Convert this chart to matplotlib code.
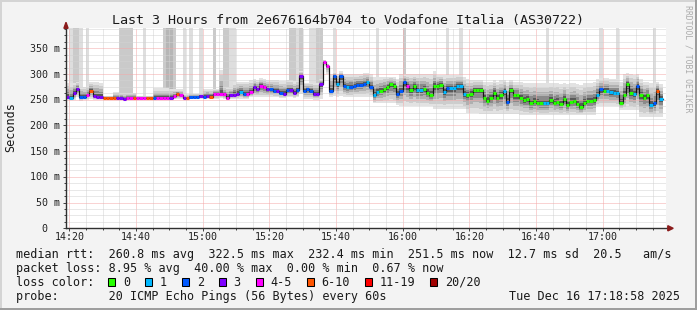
import matplotlib
matplotlib.use("Agg")
import matplotlib.pyplot as plt
import matplotlib.transforms as mtransforms
from matplotlib.patches import Rectangle, Polygon
import numpy as np

W, H, DPI = 697, 310, 100
MONO = "DejaVu Sans Mono"

title = "Last 3 Hours from 2e676164b704 to Vodafone Italia (AS30722)"

# minutes after 14:00; graph window is 14:18:58 .. 17:18:58, one step per minute from 14:19
x_start = 18 + 58 / 60
x_end = x_start + 180
first_minute = 19

# median rtt per minute (ms)
median = [
    256, 253, 264, 271, 256, 256, 260, 268, 257, 256,
    256, 253, 253, 253, 253, 253, 253, 251, 253, 253,
    253, 253, 253, 253, 253, 253, 253, 253, 253, 253,
    253, 254, 257, 261, 260, 253, 253, 256, 256, 256,
    258, 256, 258, 256, 262, 262, 261, 261, 254, 259,
    260, 262, 265, 261, 261, 265, 275, 270, 277, 274,
    270, 270, 268, 268, 264, 262, 269, 269, 264, 269,
    297, 268, 270, 268, 262, 262, 281, 323, 316, 268,
    296, 280, 296, 277, 274, 275, 277, 278, 279, 281,
    285, 275, 259, 265, 268, 271, 274, 280, 277, 261,
    268, 285, 277, 269, 277, 269, 269, 271, 264, 259,
    277, 277, 279, 265, 272, 272, 272, 277, 277, 261,
    259, 262, 269, 269, 269, 254, 248, 254, 264, 254,
    259, 268, 246, 269, 259, 259, 254, 250, 251, 243,
    248, 244, 243, 243, 243, 250, 244, 246, 241, 252,
    239, 246, 248, 241, 235, 244, 248, 248, 250, 260,
    270, 268, 268, 265, 264, 263, 244, 260, 280, 264,
    261, 277, 260, 254, 259, 239, 243, 268, 252,
]

# lost pings out of 20 per minute
loss = [
    3, 1, 3, 3, 2, 2, 4, 6, 3, 3,
    3, 6, 6, 6, 6, 3, 3, 3, 4, 4,
    6, 4, 4, 4, 6, 6, 2, 4, 4, 4,
    4, 3, 4, 6, 4, 3, 6, 2, 2, 2,
    3, 2, 3, 6, 4, 4, 4, 4, 4, 3,
    3, 3, 1, 2, 4, 4, 3, 3, 4, 4,
    3, 2, 2, 3, 2, 3, 2, 3, 3, 2,
    3, 2, 2, 2, 3, 3, 3, 4, 4, 2,
    2, 1, 2, 2, 1, 2, 2, 2, 2, 2,
    1, 2, 1, 1, 0, 0, 0, 0, 0, 2,
    2, 2, 4, 0, 0, 1, 1, 0, 0, 0,
    0, 0, 0, 1, 2, 1, 1, 1, 1, 1,
    0, 0, 0, 0, 0, 0, 0, 0, 0, 0,
    0, 1, 2, 0, 0, 0, 0, 0, 0, 0,
    0, 0, 0, 1, 1, 0, 0, 0, 0, 0,
    0, 0, 0, 0, 0, 0, 0, 0, 0, 1,
    2, 0, 1, 1, 1, 1, 0, 0, 0, 0,
    1, 2, 0, 0, 0, 1, 2, 6, 1,
]

# pings above the graph top (0 = none, 1..3 = how many smoke layers reach the top)
outliers = [
    0, 1, 2, 2, 1, 0, 1, 0, 0, 0,
    0, 0, 0, 0, 0, 0, 2, 2, 2, 2,
    0, 0, 0, 1, 0, 0, 0, 0, 0, 2,
    3, 3, 2, 0, 0, 1, 0, 1, 0, 0,
    1, 0, 0, 0, 2, 0, 0, 2, 2, 1,
    1, 0, 0, 0, 0, 0, 0, 0, 0, 0,
    0, 0, 0, 0, 0, 0, 0, 2, 2, 1,
    2, 0, 0, 1, 1, 2, 2, 0, 0, 0,
    1, 0, 0, 0, 0, 0, 0, 0, 0, 0,
    0, 0, 0, 1, 0, 0, 0, 0, 0, 0,
    0, 2, 0, 0, 0, 0, 0, 0, 0, 0,
    0, 0, 0, 0, 1, 0, 0, 0, 1, 0,
    0, 0, 0, 0, 0, 0, 0, 0, 0, 0,
    0, 0, 0, 0, 0, 0, 0, 0, 0, 0,
    0, 0, 0, 0, 1, 0, 0, 0, 0, 0,
    0, 0, 0, 0, 0, 0, 0, 0, 0, 0,
    1, 0, 0, 0, 0, 1, 0, 0, 0, 0,
    0, 0, 0, 0, 0, 0, 1, 0, 0,
]

# highest / lowest visible ping per minute (ms)
smoke_top = [
    282, 282, 282, 285, 275, 274, 276, 284, 285, 285,
    283, 258, 258, 258, 265, 265, 263, 263, 263, 263,
    263, 258, 258, 258, 258, 258, 272, 272, 272, 272,
    272, 270, 270, 270, 270, 262, 262, 262, 262, 262,
    262, 270, 270, 270, 270, 270, 308, 275, 275, 275,
    285, 285, 285, 285, 285, 288, 290, 288, 292, 290,
    288, 288, 288, 288, 286, 286, 288, 288, 286, 288,
    305, 283, 283, 283, 283, 283, 290, 328, 320, 300,
    305, 300, 305, 300, 300, 300, 300, 300, 300, 302,
    302, 300, 295, 295, 295, 295, 295, 295, 295, 290,
    300, 300, 300, 300, 300, 300, 300, 300, 300, 300,
    305, 298, 298, 298, 298, 298, 298, 298, 298, 295,
    290, 288, 288, 288, 288, 285, 285, 285, 288, 285,
    288, 288, 285, 288, 285, 285, 285, 282, 282, 282,
    282, 282, 282, 282, 282, 282, 282, 282, 280, 282,
    280, 282, 282, 280, 278, 282, 282, 282, 284, 290,
    292, 292, 292, 290, 290, 290, 285, 300, 302, 300,
    298, 300, 290, 285, 285, 282, 282, 285, 280,
]
smoke_bot = [
    249, 249, 250, 255, 248, 249, 250, 252, 250, 250,
    250, 251, 251, 251, 251, 251, 250, 249, 250, 250,
    250, 251, 251, 251, 251, 251, 250, 250, 250, 250,
    250, 251, 251, 251, 251, 251, 251, 251, 251, 251,
    251, 252, 252, 252, 252, 252, 253, 252, 249, 252,
    252, 252, 252, 252, 252, 255, 255, 255, 255, 255,
    255, 255, 255, 255, 254, 254, 255, 255, 254, 255,
    262, 252, 252, 252, 250, 250, 252, 315, 300, 256,
    258, 256, 258, 256, 256, 256, 256, 256, 256, 256,
    256, 256, 243, 243, 243, 243, 243, 243, 243, 240,
    237, 237, 237, 237, 237, 237, 237, 237, 237, 237,
    232, 232, 232, 232, 232, 232, 232, 232, 232, 232,
    225, 225, 225, 225, 222, 222, 222, 222, 222, 222,
    222, 222, 222, 222, 222, 222, 220, 220, 220, 220,
    220, 220, 220, 220, 220, 220, 220, 220, 220, 220,
    220, 220, 220, 220, 220, 220, 220, 220, 220, 237,
    237, 237, 237, 237, 237, 237, 230, 230, 230, 230,
    230, 230, 217, 217, 217, 217, 217, 217, 217,
]

loss_labels = ["0", "1", "2", "3", "4-5", "6-10", "11-19", "20/20"]
loss_colors = ["#26ff00", "#00b8ff", "#0059ff", "#7e00ff",
               "#ff00ff", "#ff5500", "#ff0000", "#a10000"]

x_ticks = [20, 40, 60, 80, 100, 120, 140, 160, 180]
x_tick_labels = ["14:20", "14:40", "15:00", "15:20", "15:40",
                 "16:00", "16:20", "16:40", "17:00"]
y_ticks = [0, 50, 100, 150, 200, 250, 300, 350]
y_tick_labels = ["0", "50 m", "100 m", "150 m", "200 m", "250 m", "300 m", "350 m"]
y_top = 389

legend_rows = [
    "median rtt:  260.8 ms avg  322.5 ms max  232.4 ms min  251.5 ms now  12.7 ms sd  20.5   am/s",
    "packet loss: 8.95 % avg  40.00 % max  0.00 % min  0.67 % now",
]
probe_text = "probe:       20 ICMP Echo Pings (56 Bytes) every 60s"
stamp_text = "Tue Dec 16 17:18:58 2025"


def loss_class(n):
    if n <= 3:
        return n
    if n <= 5:
        return 4
    if n <= 10:
        return 5
    if n <= 19:
        return 6
    return 7


n = len(median)
assert all(len(a) == n for a in (loss, outliers, smoke_top, smoke_bot))

med = np.array(median, dtype=float)
top = np.array(smoke_top, dtype=float)
bot = np.array(smoke_bot, dtype=float)
edges = first_minute + np.arange(n + 1)
left = edges[:-1]

fig = plt.figure(figsize=(W / DPI, H / DPI), dpi=DPI, facecolor="#f3f3f3")
ax = fig.add_axes([66 / W, 1 - 228.3 / H, 600 / W, 200 / H])
ax.set_facecolor("white")
ax.set_xlim(x_start, x_end)
ax.set_ylim(0, y_top)

# tall bars for pings above the graph
bar_grays = {1: "#dedede", 2: "#cacaca", 3: "#b6b6b6"}
out = np.array(outliers)
for lvl, col in bar_grays.items():
    idx = out == lvl
    if idx.any():
        ax.bar(left[idx], y_top - top[idx], bottom=top[idx], width=1, align="edge",
               color=col, linewidth=0, antialiased=False, zorder=1)

# smoke layers, light outside, dark near the median
fracs = [1.0, 0.78, 0.55, 0.35, 0.18]
grays = ["#e2e2e2", "#cdcdcd", "#b0b0b0", "#8a8a8a", "#585858"]
for f, col in zip(fracs, grays):
    lo = med - f * (med - bot)
    hi = med + f * (top - med)
    ax.fill_between(edges, np.append(lo, lo[-1]), np.append(hi, hi[-1]), step="post",
                    color=col, linewidth=0, zorder=1.2)

# grid
ax.set_xticks(x_ticks)
ax.set_xticks(np.arange(20, 200, 5), minor=True)
ax.set_yticks(y_ticks)
ax.set_yticks(np.arange(0, y_top, 12.5), minor=True)
ax.set_axisbelow(False)
ax.grid(which="minor", color="#d2d2d2", linestyle=(0, (1, 1)), linewidth=0.72, zorder=2)
ax.grid(which="major", color="#f4a8a8", linestyle=(0, (1, 1)), linewidth=0.72, zorder=2)
ax.tick_params(which="both", direction="out", color="#404040", width=0.7,
               labelleft=False, labelbottom=False)
ax.tick_params(which="major", length=2.2)
ax.tick_params(which="minor", length=1.2)
for s in ax.spines.values():
    s.set_visible(False)

# median line with loss colours
ax.step(edges, np.append(med, med[-1]), where="post", color="#151515", linewidth=0.85, zorder=3)
seg_colors = [loss_colors[loss_class(v)] for v in loss]
ax.hlines(med, left, edges[1:], colors=seg_colors, linewidth=2.2, zorder=4, capstyle="butt")

# axes with arrows
axis_col = "#303030"
arrow_col = "#8b1c1c"
ax.plot([0, 1.004], [0, 0], transform=ax.transAxes, color=axis_col, lw=1.0, clip_on=False, zorder=5)
ax.plot([0, 0], [0, 1.01], transform=ax.transAxes, color=axis_col, lw=1.0, clip_on=False, zorder=5)
ax.add_patch(Polygon([[1.003, -0.013], [1.003, 0.013], [1.012, 0]], closed=True,
                     transform=ax.transAxes, color=arrow_col, clip_on=False, zorder=6))
ax.add_patch(Polygon([[-0.0035, 1.0], [0.0035, 1.0], [0, 1.03]], closed=True,
                     transform=ax.transAxes, color=arrow_col, clip_on=False, zorder=6))

# tick labels
xtrans = mtransforms.offset_copy(mtransforms.blended_transform_factory(ax.transData, ax.transAxes),
                                 fig=fig, x=0, y=-11.7, units="dots")
for m, lab in zip(x_ticks, x_tick_labels):
    ax.text(m, 0, lab, transform=xtrans, ha="center", va="baseline",
            family=MONO, fontsize=7.2, color="#222222")
for v, lab in zip(y_ticks, y_tick_labels):
    dx = -19 if v == 0 else -6
    ytrans = mtransforms.offset_copy(mtransforms.blended_transform_factory(ax.transAxes, ax.transData),
                                     fig=fig, x=dx, y=-3.5, units="dots")
    ax.text(0, v, lab, transform=ytrans, ha="right", va="baseline",
            family=MONO, fontsize=7.2, color="#222222")


def ftext(x, y, s, **kw):
    kw.setdefault("family", MONO)
    kw.setdefault("color", "#1a1a1a")
    fig.text(x / W, 1 - y / H, s, **kw)


ftext(W / 2, 24, title, ha="center", va="baseline", fontsize=9.6)
ftext(11, 127, "Seconds", ha="center", va="center", rotation=90, fontsize=8.5)
ftext(688, 59, "RRDTOOL / TOBI OETIKER", ha="center", va="center", rotation=270,
      fontsize=5.9, color="#ababab")

cw = 7.09
ftext(16, 257.7, legend_rows[0], ha="left", va="baseline", fontsize=8.45)
ftext(16, 271.7, legend_rows[1], ha="left", va="baseline", fontsize=8.45)
ftext(16, 285.7, "loss color:", ha="left", va="baseline", fontsize=8.45)
bx = 16 + 13 * cw
for lab, col in zip(loss_labels, loss_colors):
    fig.patches.append(Rectangle((bx / W, 1 - 286 / H), 7 / W, 8 / H, transform=fig.transFigure,
                                 facecolor=col, edgecolor="black", linewidth=0.75))
    ftext(bx + 2.1 * cw, 285.7, lab, ha="left", va="baseline", fontsize=8.45)
    bx += (len(lab) + 4.2) * cw
ftext(16, 300, probe_text, ha="left", va="baseline", fontsize=8.45)
ftext(680, 300, stamp_text, ha="right", va="baseline", fontsize=8.45)

# frame shading
fig.patches.append(Rectangle((0, 1 - 2 / H), 1, 2 / H, transform=fig.transFigure,
                             facecolor="#d4d4d4", linewidth=0))
fig.patches.append(Rectangle((0, 0), 2 / W, 1, transform=fig.transFigure,
                             facecolor="#d4d4d4", linewidth=0))
fig.patches.append(Rectangle((0, 0), 1, 2.5 / H, transform=fig.transFigure,
                             facecolor="#9e9e9e", linewidth=0))
fig.patches.append(Rectangle((1 - 2.5 / W, 0), 2.5 / W, 1, transform=fig.transFigure,
                             facecolor="#9e9e9e", linewidth=0))

fig.savefig("out.png", dpi=DPI, facecolor=fig.get_facecolor())
